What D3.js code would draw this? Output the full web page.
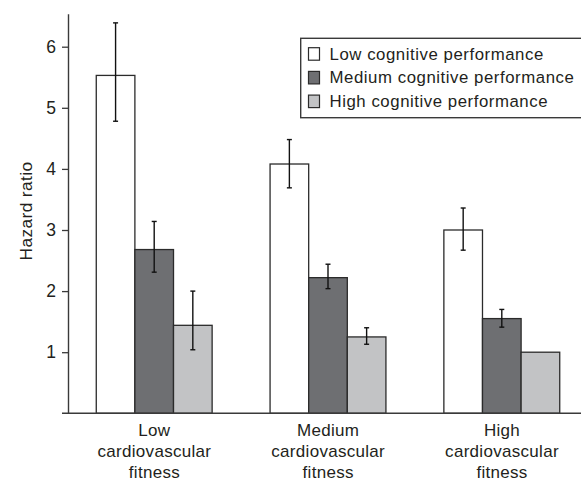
<!DOCTYPE html>
<html>
<head>
<meta charset="utf-8">
<script src="https://cdn.jsdelivr.net/npm/d3@7"></script>
<style>
  html, body { margin: 0; padding: 0; background: #fff; }
  svg text { font-family: "Liberation Sans", Arial, sans-serif; fill: #231f20; }
</style>
</head>
<body>
<svg id="chart" width="581" height="482"></svg>
<script>
'use strict';

// fitness groups (x axis), one line per array entry
var groups = [
  ['Low', 'cardiovascular', 'fitness'],
  ['Medium', 'cardiovascular', 'fitness'],
  ['High', 'cardiovascular', 'fitness']
];
var seriesNames = ['Low cognitive performance', 'Medium cognitive performance', 'High cognitive performance'];
var seriesFill = ['#ffffff', '#6e6f72', '#c2c3c5'];

// hazard ratios, by series, across fitness groups
var lowCog = [5.53, 4.08, 3.00];
var medCog = [2.68, 2.22, 1.55];
var highCog = [1.44, 1.25, 1.00];
// confidence intervals (null = reference group, no bar)
var lowCogLo = [4.78, 3.69, 2.67];
var lowCogHi = [6.39, 4.48, 3.36];
var medCogLo = [2.31, 2.04, 1.41];
var medCogHi = [3.14, 2.44, 1.70];
var highCogLo = [1.04, 1.13, null];
var highCogHi = [2.00, 1.40, null];

var yTicks = [1, 2, 3, 4, 5, 6];
var yTop = 6.54;
var yLabel = 'Hazard ratio';

var values = [lowCog, medCog, highCog];
var lows = [lowCogLo, medCogLo, highCogLo];
var highs = [lowCogHi, medCogHi, highCogHi];

var svg = d3.select('#chart');

var y = d3.scaleLinear().domain([0, yTop]).range([413.3, 413.3 - yTop * 61.1]);
var x0 = d3.scaleBand().domain(d3.range(groups.length)).range([67.3, 588.7])
  .paddingInner(1 / 3).paddingOuter(1 / 6);
var x1 = d3.scaleBand().domain(d3.range(seriesNames.length)).range([0, x0.bandwidth()]);

// flatten into bar records
var bars = [];
values.forEach(function (arr, s) {
  arr.forEach(function (v, g) {
    bars.push({ g: g, s: s, v: v, lo: lows[s][g], hi: highs[s][g] });
  });
});

var plot = svg.append('g');

plot.selectAll('rect.bar').data(bars).enter().append('rect')
  .attr('class', 'bar')
  .attr('x', function (d) { return x0(d.g) + x1(d.s); })
  .attr('y', function (d) { return y(d.v); })
  .attr('width', x1.bandwidth())
  .attr('height', function (d) { return y(0) - y(d.v); })
  .attr('fill', function (d) { return seriesFill[d.s]; })
  .attr('stroke', '#2b2b2b')
  .attr('stroke-width', 1.3);

// error bars
var eb = plot.selectAll('g.err').data(bars.filter(function (d) { return d.lo != null; }))
  .enter().append('g').attr('class', 'err')
  .attr('transform', function (d) { return 'translate(' + (x0(d.g) + x1(d.s) + x1.bandwidth() / 2) + ',0)'; })
  .attr('stroke', '#111').attr('stroke-width', 1.4);
eb.append('line').attr('x1', 0).attr('x2', 0)
  .attr('y1', function (d) { return y(d.hi); }).attr('y2', function (d) { return y(d.lo); });
eb.append('line').attr('x1', -2.5).attr('x2', 2.5)
  .attr('y1', function (d) { return y(d.hi); }).attr('y2', function (d) { return y(d.hi); });
eb.append('line').attr('x1', -2.5).attr('x2', 2.5)
  .attr('y1', function (d) { return y(d.lo); }).attr('y2', function (d) { return y(d.lo); });

// y axis
var yAxis = svg.append('g').attr('transform', 'translate(68,0)')
  .call(d3.axisLeft(y).tickValues(yTicks).tickSize(6).tickSizeOuter(0).tickPadding(6)
    .tickFormat(d3.format('d')));
yAxis.select('.domain').attr('stroke', '#3a3a3a').attr('stroke-width', 1.4);
yAxis.selectAll('.tick line').attr('stroke', '#3a3a3a').attr('stroke-width', 1.3);
yAxis.selectAll('.tick text').attr('font-size', 17.5).attr('font-family', '"Liberation Sans", Arial, sans-serif')
  .attr('fill', '#231f20');

// baseline
svg.append('line').attr('x1', 62).attr('x2', 581).attr('y1', y(0)).attr('y2', y(0))
  .attr('stroke', '#3a3a3a').attr('stroke-width', 1.4);

// y label
svg.append('text')
  .attr('transform', 'translate(31.5,' + 211 + ') rotate(-90)')
  .attr('text-anchor', 'middle')
  .attr('font-size', 17.3)
  .attr('letter-spacing', 0.4)
  .text(yLabel);

// category labels
var cat = svg.selectAll('text.cat').data(groups).enter().append('text')
  .attr('class', 'cat')
  .attr('text-anchor', 'middle')
  .attr('font-size', 17)
  .attr('letter-spacing', 0.3)
  .attr('x', function (d, i) { return x0(i) + x0.bandwidth() / 2 + 0.2; })
  .attr('y', 435.6);
cat.selectAll('tspan').data(function (d) { return d; }).enter().append('tspan')
  .attr('x', function () { return d3.select(this.parentNode).attr('x'); })
  .attr('dy', function (d, i) { return i === 0 ? 0 : 21.3; })
  .text(function (d) { return d; });

// legend
var legend = svg.append('g');
legend.append('rect').attr('x', 300.7).attr('y', 38.3).attr('width', 300).attr('height', 79.4)
  .attr('fill', '#fff').attr('stroke', '#3a3a3a').attr('stroke-width', 1.4);
var li = legend.selectAll('g.item').data(seriesNames).enter().append('g')
  .attr('class', 'item')
  .attr('transform', function (d, i) { return 'translate(308.5,' + (47.7 + i * 23.7) + ')'; });
li.append('rect').attr('width', 11).attr('height', 12.5)
  .attr('fill', function (d, i) { return seriesFill[i]; })
  .attr('stroke', '#2b2b2b').attr('stroke-width', 1.2);
li.append('text').attr('x', 21).attr('y', 11.8)
  .attr('font-size', 16.8).attr('letter-spacing', 0.55)
  .text(function (d) { return d; });
</script>
</body>
</html>
